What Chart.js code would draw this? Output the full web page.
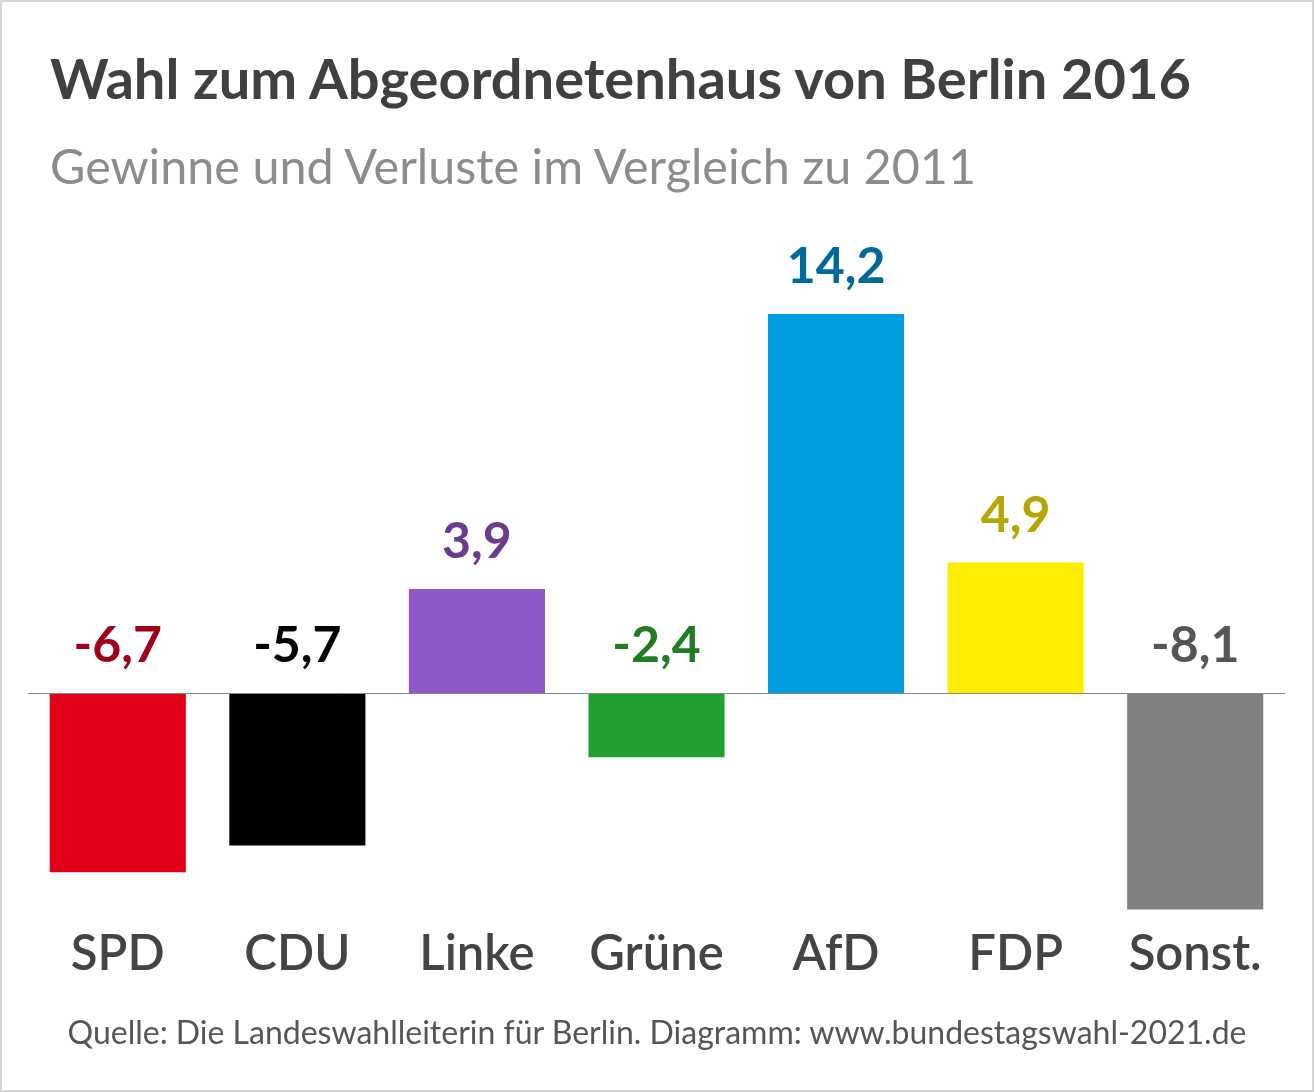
<!DOCTYPE html>
<html lang="de">
<head>
<meta charset="utf-8">
<script src="https://cdn.jsdelivr.net/npm/chart.js@4/dist/chart.umd.min.js"></script>
<style>
  html, body { margin: 0; padding: 0; background: #fff; }
  body { position: relative; width: 1314px; height: 1092px; overflow: hidden; font-family: Lato, sans-serif; }
  #frame { position: absolute; left: 0; top: 0; width: 1314px; height: 1092px; box-sizing: border-box; border: 2px solid #d6d6d6; pointer-events: none; }
  canvas { position: absolute; left: 0; top: 0; }
  .t { position: absolute; white-space: nowrap; line-height: 1; }
  #title { left: 50px; top: 50px; font-size: 56px; font-weight: 700; color: #404040; }
  #subtitle { left: 50px; top: 141px; font-size: 48.5px; font-weight: 400; color: #8c8c8c; }
  #source { left: 0; width: 1314px; text-align: center; top: 1016px; font-size: 32px; font-weight: 400; color: #555; }
</style>
</head>
<body>
<canvas id="c" width="1314" height="1092"></canvas>
<div class="t" id="title">Wahl zum Abgeordnetenhaus von Berlin 2016</div>
<div class="t" id="subtitle">Gewinne und Verluste im Vergleich zu 2011</div>
<div class="t" id="source">Quelle: Die Landeswahlleiterin für Berlin. Diagramm: www.bundestagswahl-2021.de</div>
<div id="frame"></div>
<script>
const parties = ["SPD", "CDU", "Linke", "Grüne", "AfD", "FDP", "Sonst."];
const changes = [-6.7, -5.7, 3.9, -2.4, 14.2, 4.9, -8.1];
const barColors = ["#e2001a", "#000000", "#8f58c7", "#21a032", "#009ee0", "#ffed00", "#808080"];
const labelColors = ["#a0001a", "#000000", "#6a3c8e", "#1f7d22", "#00699c", "#b5a600", "#555555"];

const fmt = v => v.toFixed(1).replace(".", ",");

const zeroLineAndLabels = {
  id: "zeroLineAndLabels",
  afterDatasetsDraw(chart) {
    const ctx = chart.ctx;
    const y = chart.scales.y;
    const area = chart.chartArea;
    const y0 = Math.round(y.getPixelForValue(0)) + 0.5;
    ctx.save();
    ctx.strokeStyle = "#888888";
    ctx.lineWidth = 1;
    ctx.beginPath();
    ctx.moveTo(area.left, y0);
    ctx.lineTo(area.right, y0);
    ctx.stroke();
    const meta = chart.getDatasetMeta(0);
    ctx.font = "700 50px Lato";
    ctx.textAlign = "center";
    ctx.textBaseline = "middle";
    meta.data.forEach((bar, i) => {
      const v = changes[i];
      const top = y.getPixelForValue(Math.max(0, v));
      ctx.fillStyle = labelColors[i];
      ctx.fillText(fmt(v), bar.x, top - 47);
    });
    ctx.restore();
  }
};

new Chart(document.getElementById("c"), {
  type: "bar",
  data: {
    labels: parties,
    datasets: [{
      data: changes,
      backgroundColor: barColors,
      borderWidth: 0,
      categoryPercentage: 1,
      barPercentage: 0.758
    }]
  },
  options: {
    responsive: false,
    animation: false,
    layout: { padding: { left: 28, right: 29, top: 266, bottom: 103 } },
    plugins: { legend: { display: false }, tooltip: { enabled: false }, title: { display: false } },
    scales: {
      x: {
        grid: { display: false, drawTicks: false },
        border: { display: false },
        ticks: { color: "#444444", padding: 5, font: { family: "Lato", size: 49, weight: "600", lineHeight: 1.2 } }
      },
      y: {
        display: false,
        min: -8.5,
        max: 16
      }
    }
  },
  plugins: [zeroLineAndLabels]
});
</script>
</body>
</html>
